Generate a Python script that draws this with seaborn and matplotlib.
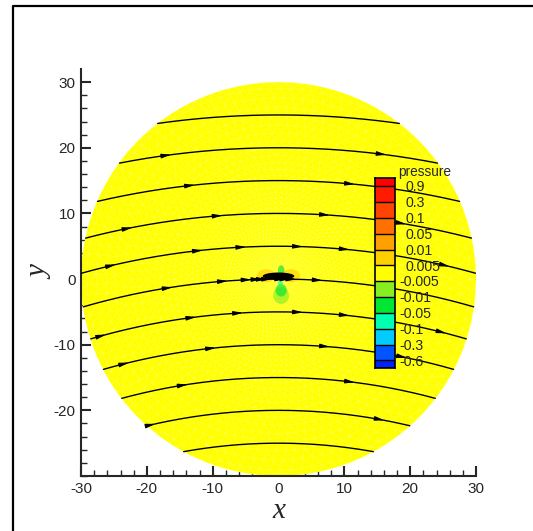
import numpy as np
import pandas as pd
import seaborn as sns
import matplotlib
matplotlib.use("Agg")
import matplotlib.pyplot as plt
import matplotlib.tri as mtri
from matplotlib.patches import Circle, Ellipse
from matplotlib.colors import ListedColormap
from matplotlib.lines import Line2D
from matplotlib import transforms

# ---- data ----
domain_radius = 30.0

# contour legend: band colours bottom -> top, boundary labels bottom -> top
level_labels = ['-0.6', '-0.3', '-0.1', '-0.05', '-0.01', '-0.005',
                '0.005', '0.01', '0.05', '0.1', '0.3', '0.9']
level_values = [-0.6, -0.3, -0.1, -0.05, -0.01, -0.005,
                0.005, 0.01, 0.05, 0.1, 0.3, 0.9]
band_colors = ['#0022ff', '#0055ff', '#00ccff', '#00ffb0', '#00e632', '#88ee22',
               '#ffff00', '#ffd000', '#ffa000', '#ff7000', '#ff4400', '#ff1a00', '#ff0000']

# streamlines: height at x=0, arcs around a far centre below the body
stream_y0 = [-25, -20, -15, -10, -5, 0, 5, 10, 15, 20, 25]
arc_center_y = -106.0
arrow_x = {
    25: [],
    20: [-16.3, 16.4],
    15: [-12.7, 11.6],
    10: [-22.2, -8.5, 7.8, 19.4],
    5: [-24.7, -11.5, -4.9, 3.7, 10.8, 26.0],
    0: [-16.1, -7.7, -4.1, -2.6, -1.8, -1.0, 1.0, 1.8, 2.7, 6.7],
    -5: [-26.2, -12.5, -5.4, 3.7, 10.8, 25.5],
    -10: [-22.7, -9.5, 7.8, 19.5],
    -15: [-13.8, 11.6],
    -20: [-18.7, 16.1],
    -25: [],
}

# small pressure spots near the body: x, y, width, height, pressure
spot_x = [-1.9, 1.9, 0.4, 0.4, 0.4, 0.3]
spot_y = [0.5, 0.5, -2.5, -1.7, 1.3, -0.6]
spot_w = [2.8, 2.8, 2.4, 1.7, 1.0, 0.8]
spot_h = [2.0, 2.0, 2.6, 1.9, 1.6, 0.7]
spot_p = [0.01, 0.01, -0.005, -0.01, -0.01, -0.05]


def band_color(p):
    idx = np.searchsorted(level_values, p)
    return band_colors[idx]


sns.set_style("ticks")
plt.rcParams['font.family'] = ['Liberation Sans', 'DejaVu Sans']

fig = plt.figure(figsize=(5.33, 5.31), dpi=100)
ax = fig.add_axes([81 / 533, 55 / 531, 395 / 533, 407 / 531])

# yellow domain
ax.add_patch(Circle((0, 0), domain_radius, facecolor='#ffff00', edgecolor='none', zorder=1))

# faint unstructured mesh
pts_x, pts_y = [0.0], [0.0]
r, k = 0.4, 0
while r < domain_radius:
    ds = 0.25 + 0.045 * r
    n = max(6, int(2 * np.pi * r / ds))
    th = np.linspace(0, 2 * np.pi, n, endpoint=False) + (k % 2) * np.pi / n
    pts_x.extend(r * np.cos(th))
    pts_y.extend(r * np.sin(th))
    r += ds
    k += 1
n = int(2 * np.pi * domain_radius / 1.4)
th = np.linspace(0, 2 * np.pi, n, endpoint=False)
pts_x.extend(domain_radius * np.cos(th))
pts_y.extend(domain_radius * np.sin(th))
tri = mtri.Triangulation(np.array(pts_x), np.array(pts_y))
ax.triplot(tri, color='white', lw=0.35, alpha=0.3, zorder=2)

# pressure spots
for x, y, w, h, p in zip(spot_x, spot_y, spot_w, spot_h, spot_p):
    ax.add_patch(Ellipse((x, y), w, h, facecolor=band_color(p), edgecolor='none',
                         alpha=0.65, zorder=3))

# streamlines
rows = []
t = np.linspace(-0.7, 0.7, 1500)
for y0 in stream_y0:
    R = y0 - arc_center_y
    xs = R * np.sin(t)
    ys = arc_center_y + R * np.cos(t)
    inside = xs ** 2 + ys ** 2 <= domain_radius ** 2
    for x, y in zip(xs[inside], ys[inside]):
        rows.append({'line': y0, 'x': x, 'y': y})
df = pd.DataFrame(rows)
sns.lineplot(data=df, x='x', y='y', units='line', estimator=None, sort=False,
             color='black', lw=1.0, ax=ax, legend=False, zorder=4)

# wake blob on the centre line
ax.add_patch(Ellipse((0, 0.45), 4.8, 1.1, facecolor='black', edgecolor='none', zorder=4))

for y0, xs in arrow_x.items():
    R = y0 - arc_center_y
    for x in xs:
        tt = np.arcsin(x / R)
        tip = (R * np.sin(tt), arc_center_y + R * np.cos(tt))
        dx, dy = np.cos(tt), -np.sin(tt)
        tail = (tip[0] - 0.8 * dx, tip[1] - 0.8 * dy)
        ax.annotate('', xy=tip, xytext=tail,
                    arrowprops=dict(arrowstyle='-|>,head_length=0.7,head_width=0.16',
                                    color='black', lw=0.8, mutation_scale=8,
                                    shrinkA=0, shrinkB=0), zorder=5)

ax.set_xlim(-30, 30)
ax.set_ylim(-30, 32)
ax.set_xticks(np.arange(-30, 31, 10))
ax.set_yticks(np.arange(-20, 31, 10))
ax.set_xticks(np.arange(-30, 31, 2), minor=True)
ax.set_yticks(np.arange(-30, 31, 2), minor=True)
ax.set_xticklabels([str(v) for v in range(-30, 31, 10)])
ax.set_yticklabels([str(v) for v in range(-20, 31, 10)])
ax.tick_params(which='major', direction='in', length=7, width=1.5, labelsize=11, pad=4)
ax.tick_params(which='minor', direction='in', length=4, width=1.0)
sns.despine(ax=ax)
for s in ['left', 'bottom']:
    ax.spines[s].set_linewidth(1.5)
ax.set_facecolor('none')
ax.set_xlabel('x', fontfamily='Liberation Serif', style='italic', fontsize=21, labelpad=2)
ax.set_ylabel('y', fontfamily='Liberation Serif', style='italic', fontsize=21, labelpad=0)

# legend bar
cax = fig.add_axes([375 / 533, (531 - 368.3) / 531, 20 / 533, 190 / 531])
edges = np.concatenate([[-0.5], np.arange(len(level_labels)), [len(level_labels) - 0.5]])
cax.pcolormesh([0, 1], edges, np.arange(len(band_colors)).reshape(-1, 1),
               cmap=ListedColormap(band_colors), vmin=-0.5, vmax=len(band_colors) - 0.5)
cax.hlines(np.arange(len(level_labels)), 0, 1, color='black', lw=1.0)
cax.set_xlim(0, 1)
cax.set_ylim(edges[0], edges[-1])
cax.set_xticks([])
cax.set_yticks([])
for s in cax.spines.values():
    s.set_linewidth(1.2)
    s.set_color('black')
blend = transforms.blended_transform_factory(cax.transAxes, cax.transData)
for i, lab in enumerate(level_labels):
    xpos = 1.22 if lab.startswith('-') else 1.5
    cax.text(xpos, i - 0.08, lab, transform=blend, fontsize=10.2, va='center', ha='left')
cax.text(1.15, edges[-1] + 0.38, 'pressure', transform=blend, fontsize=9.8,
         va='center', ha='left')

# outer frame
fig.add_artist(Line2D([13 / 533, 13 / 533, 1.0], [0, 1 - 6 / 531, 1 - 6 / 531],
                      transform=fig.transFigure, color='black', lw=1.6))

fig.savefig('out.png', dpi=100)
